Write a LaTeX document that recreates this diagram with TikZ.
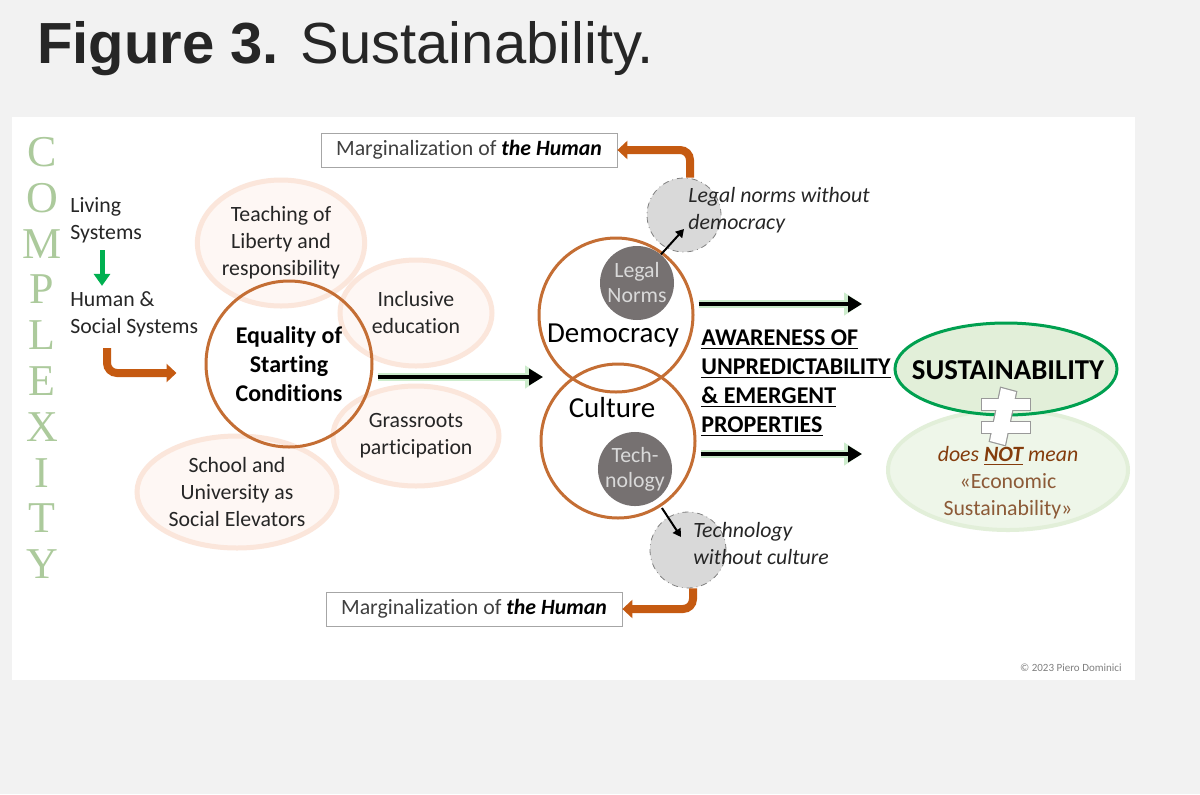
\documentclass[tikz,border=0pt]{standalone}
\usepackage{fontspec}
\setmainfont[Ligatures=NoCommon]{Carlito}
\newfontfamily\titlefont{Liberation Sans}
\newfontfamily\letterfont{Liberation Serif}
\usetikzlibrary{shapes.geometric, arrows.meta}

\definecolor{panelgray}{RGB}{242,242,242}
\definecolor{rust}{RGB}{197,90,17}
\definecolor{ringbrown}{RGB}{196,110,52}
\definecolor{leafgreen}{RGB}{0,176,80}
\definecolor{sustgreen}{RGB}{0,160,80}
\definecolor{paleleaf}{RGB}{226,239,217}
\definecolor{paleleafer}{RGB}{238,246,233}
\definecolor{blush}{RGB}{254,247,243}
\definecolor{blushedge}{RGB}{251,230,219}
\definecolor{slate}{RGB}{118,113,113}
\definecolor{mist}{RGB}{217,217,217}
\definecolor{lettergreen}{RGB}{172,202,156}
\definecolor{notbrown}{RGB}{132,60,12}
\definecolor{econbrown}{RGB}{140,90,55}
\definecolor{glowgreen}{RGB}{204,236,204}

\tikzset{
    txt/.style={font=\fontsize{10.9}{13.5}\selectfont, align=center, inner sep=0pt, text=black!85},
    bubble/.style={ellipse, fill=blush, draw=blushedge, line width=2.5pt, fill opacity=0.9, text opacity=1, txt},
    ring/.style={circle, draw=ringbrown, line width=1.5pt, inner sep=0pt},
    darkdot/.style={circle, fill=slate, minimum size=37pt, txt, text=mist, font=\fontsize{10.9}{12.5}\selectfont},
    mistdot/.style={circle, fill=mist, draw=gray, dash dot, line width=0.4pt, minimum size=37pt},
    heavyarrow/.style={line width=2pt, -{Triangle[length=7pt, width=8pt]},
        preaction={draw=glowgreen, line width=4pt, -{Triangle[length=9pt, width=11pt]}}},
    greenarrow/.style={draw=leafgreen, line width=2.5pt, -{Triangle[length=6pt, width=8pt]}},
    rustarrow/.style={draw=rust, line width=4pt, rounded corners=5pt, -{Triangle[length=5pt, width=9pt]}},
    thinarrow/.style={line width=1pt, -{Triangle[length=4pt, width=4.5pt]}},
    margbox/.style={draw=gray!70, fill=white, minimum width=148pt, minimum height=17pt, txt, text=black!75},
    notsign/.style={draw=gray!80, line width=1.2pt, fill=white}
}

\begin{document}
\begin{tikzpicture}[x=0.5pt, y=-0.5pt]
    \fill[panelgray] (0, 0) rectangle (1200, 794);
    \fill[white] (12, 117) rectangle (1135, 680);

    \node(title) at (37, 63)[anchor=base west, inner sep=0pt, text=black!85]{\titlefont\fontsize{29}{34}\selectfont\textbf{Figure 3.} Sustainability.};

    \foreach \ch [count=\i from 0] in {C,O,M,P,L,E,X,I,T,Y}
        \node(cx\i) at (42, {152+45.8*\i})[inner sep=0pt, text=lettergreen, font=\letterfont\fontsize{22}{24}\selectfont]{\ch};

    \node(living) at (70, 220)[anchor=west, txt, align=left]{Living\\Systems};
    \node(humansys) at (70, 314)[anchor=west, txt, align=left]{Human \&\\Social Systems};

    \node(teach) at (281, 243)[bubble, minimum width=83pt, minimum height=63pt]{Teaching of\\Liberty and\\responsibility};
    \node(incl) at (416, 313)[bubble, minimum width=76pt, minimum height=53pt]{Inclusive\\education};
    \node(grass) at (416, 436)[bubble, minimum width=83pt, minimum height=50pt]{Grassroots\\participation};
    \node(school) at (237, 492)[bubble, minimum width=100pt, minimum height=56pt]{School and\\University as\\Social Elevators};
    \node(eq) at (289, 364)[ring, minimum size=83pt, txt, font=\bfseries\fontsize{12}{14.5}\selectfont, text=black]{Equality of\\Starting\\Conditions};

    \node(ln) at (637, 283)[darkdot]{Legal\\Norms};
    \node(tch) at (635, 469)[darkdot]{Tech-\\nology};
    \node(dem) at (616, 315)[ring, minimum size=77pt]{};
    \node(cul) at (618, 441)[ring, minimum size=77pt]{};
    \node(demtxt) at (613, 336)[txt, font=\fontsize{14.5}{16}\selectfont, text=black]{Democracy};
    \node(cultxt) at (612, 408)[txt, font=\fontsize{14.5}{16}\selectfont, text=black]{Culture};

    \node(legw) at (684, 215)[mistdot]{};
    \node(legwtxt) at (688, 210)[anchor=west, txt, align=left, font=\itshape\fontsize{10.9}{13.5}\selectfont]{Legal norms without\\democracy};
    \node(techw) at (688, 550)[mistdot, minimum size=38pt]{};
    \node(techwtxt) at (693, 544)[anchor=west, txt, align=left, font=\itshape\fontsize{10.9}{13.5}\selectfont]{Technology\\without culture};

    \node(margtop) at (469, 150)[margbox]{Marginalization of \textbf{\textit{\color{black}the Human}}};
    \node(margbot) at (474, 609)[margbox]{Marginalization of \textbf{\textit{\color{black}the Human}}};

    \node(aware) at (701, 383)[anchor=west, txt, align=left, font=\bfseries\fontsize{12}{14.5}\selectfont, text=black]{\underline{AWARENESS OF}\\\underline{UNPREDICTABILITY}\\\underline{\& EMERGENT}\\\underline{PROPERTIES}};

    \node(econ) at (1008, 470)[ellipse, fill=paleleafer, draw=paleleaf, line width=2pt, minimum width=120pt, minimum height=60pt]{};
    \node(sus) at (1006, 369)[ellipse, fill=paleleaf, draw=sustgreen, line width=1.5pt, minimum width=111pt, minimum height=46pt]{};
    \node(sustxt) at (1008, 370)[txt, font=\bfseries\fontsize{14.4}{16}\selectfont, text=black]{SUSTAINABILITY};
    \node(econtxt) at (1008, 483)[txt, text=notbrown]{\itshape does \underline{\textbf{NOT}} mean\\\color{econbrown}«Economic\\\color{econbrown}Sustainability»};

    \draw[notsign] (982, 399) rectangle (1030, 410);
    \draw[notsign] (982, 422) rectangle (1030, 433);
    \draw[notsign] (1001, 388) -- (1016, 392) -- (1005, 445) -- (990, 441) -- cycle;
    \fill[white] (982, 399) rectangle (1030, 410);
    \fill[white] (982, 422) rectangle (1030, 433);
    \fill[white] (1001, 388) -- (1016, 392) -- (1005, 445) -- (990, 441) -- cycle;

    \coordinate(join) at (543, 377);
    \coordinate(upend) at (862, 304);
    \coordinate(lowend) at (862, 454);

    \draw[greenarrow, shorten <=3.5pt, shorten >=2.5pt] ([xshift=16pt]living.south west) -- ([xshift=16pt]humansys.north west);
    \draw[rustarrow] ([xshift=18.5pt, yshift=-5.5pt]humansys.south west) |- ([xshift=-14pt, yshift=-4.5pt]eq.west);
    \draw[heavyarrow] ([xshift=2pt, yshift=-6.5pt]eq.east) -- (join);
    \draw[heavyarrow] ([xshift=2pt]dem.east |- upend) -- (upend);
    \draw[heavyarrow] ([xshift=2pt]cul.east |- lowend) -- (lowend);

    \draw[thinarrow] (ln.50) -- ([yshift=-7pt]legw.center);
    \draw[thinarrow, shorten <=5pt] (tch.-55) -- ([xshift=-3.5pt, yshift=6.5pt]techw.center);
    \draw[rustarrow] ([xshift=3pt]legw.north) |- (margtop.east);
    \draw[rustarrow] ([xshift=2.5pt]techw.south) |- (margbot.east);

    \node(credit) at (1122, 668)[anchor=east, txt, font=\fontsize{5.5}{6}\selectfont, text=gray]{\textcopyright{} 2023 Piero Dominici};
\end{tikzpicture}
\end{document}
